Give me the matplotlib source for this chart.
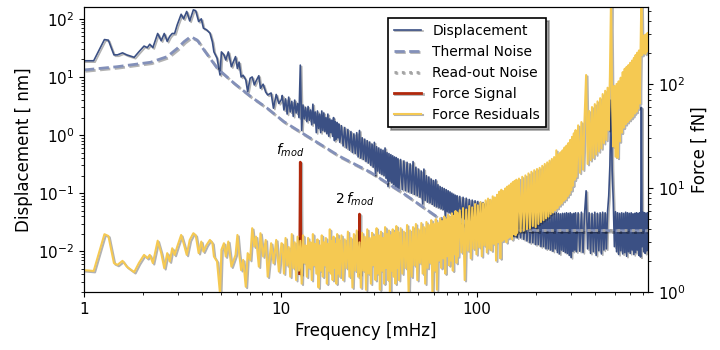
import numpy as np
import matplotlib
matplotlib.use("Agg")
import matplotlib.pyplot as plt
import matplotlib.patheffects as pe
from matplotlib import ticker

# ---- data ----
# low-frequency part (1 - 10 mHz): displacement [nm], force residuals [fN]
f_low = [1.0, 1.12, 1.27, 1.33, 1.42, 1.48, 1.57, 1.65, 1.80, 1.90, 2.02, 2.10, 2.16, 2.24,
         2.37, 2.47, 2.56, 2.65, 2.73, 2.81, 2.89, 2.98, 3.12, 3.21, 3.33, 3.45, 3.60, 3.70,
         3.83, 3.95, 4.05, 4.20, 4.37, 4.50, 4.58, 4.75, 4.92, 5.00, 5.15, 5.26, 5.42, 5.62,
         5.90, 6.03, 6.15, 6.30, 6.45, 6.65, 6.80, 7.00, 7.17, 7.35, 7.50, 7.75, 7.90, 8.15,
         8.40, 8.60, 8.95, 9.20, 9.50, 9.80, 10.1]
disp_low = [19, 19, 44, 43, 24, 24, 26, 24, 21.8, 27, 34, 32, 36.6, 32,
            56, 42, 56, 41, 50, 56, 56, 79, 120, 100, 134, 92, 143, 138,
            90, 100, 69, 65, 57, 40, 27, 21, 10.8, 27, 24, 19.6, 27, 15,
            22.4, 14, 18, 10, 10.7, 8.9, 5.6, 9.5, 10, 7.3, 8.5, 10.5, 6.4, 7.5,
            5.5, 4.9, 5.3, 2.9, 5.0, 3.5, 4.1]
resid_low = [1.62, 1.59, 3.59, 3.45, 1.89, 1.82, 1.99, 1.75, 1.55, 1.89, 2.27, 2.11, 2.27, 1.89,
             3.11, 2.36, 1.69, 2.36, 1.96, 2.63, 2.27, 2.73, 3.53, 2.94, 2.27, 3.16, 3.67, 3.5,
             2.36, 3.05, 2.44, 2.83, 3.16, 2.94, 2.19, 1.96, 0.95, 2.54, 2.94, 2.19, 3.05, 1.75,
             2.27, 3.53, 2.36, 1.62, 2.03, 1.12, 2.36, 2.03, 4.1, 2.73, 3.4, 1.75, 3.67, 2.19,
             3.16, 1.4, 2.94, 1.89, 3.16, 1.57, 2.94]

# 10 - 20 mHz
f_s1 = [10.2, 10.4, 10.6, 10.8, 11.0, 11.2, 11.4, 11.6, 11.8, 12.0,
        12.2, 12.4, 12.6, 12.8, 13.0, 13.2, 13.4, 13.6, 13.8, 14.0,
        14.2, 14.4, 14.6, 14.8, 15.0, 15.2, 15.4, 15.6, 15.8, 16.0,
        16.2, 16.4, 16.6, 16.8, 17.0, 17.2, 17.4, 17.6, 17.8, 18.0,
        18.2, 18.4, 18.6, 18.8, 19.0, 19.2, 19.4, 19.6, 19.8, 20.0]
disp_s1 = [4.8, 2.7, 4.2, 2.3, 4.5, 2.5, 3.8, 2.1, 4.0, 2.4,
           3.5, 2.0, 16, 1.2, 3.3, 1.9, 3.0, 1.7, 3.1, 1.8,
           2.7, 1.5, 3.4, 1.6, 2.5, 1.1, 2.6, 1.3, 2.3, 1.1,
           2.6, 1.2, 2.4, 1.15, 2.0, 1.05, 2.3, 0.95, 1.9, 1.1,
           1.8, 0.95, 2.0, 0.8, 1.7, 0.85, 1.65, 0.9, 1.55, 0.75]
resid_s1 = [2.9, 1.5, 3.3, 1.8, 2.7, 1.4, 3.6, 1.7, 3.0, 1.3,
            3.4, 1.6, 3.1, 1.2, 3.5, 1.9, 2.8, 1.4, 3.3, 1.7,
            3.0, 1.3, 3.6, 1.8, 2.9, 1.5, 3.2, 1.1, 2.8, 1.6,
            3.5, 1.4, 3.0, 1.8, 3.3, 1.2, 2.9, 1.6, 4.0, 1.5,
            3.1, 1.3, 3.4, 1.7, 2.9, 1.2, 3.6, 1.5, 3.2, 1.4]

# 20 - 40 mHz
f_s2 = [20.4, 20.8, 21.2, 21.6, 22.0, 22.4, 22.8, 23.2, 23.6, 24.0,
        24.4, 24.8, 25.2, 25.6, 26.0, 26.4, 26.8, 27.2, 27.6, 28.0,
        28.4, 28.8, 29.2, 29.6, 30.0, 30.4, 30.8, 31.2, 31.6, 32.0,
        32.4, 32.8, 33.2, 33.6, 34.0, 34.4, 34.8, 35.2, 35.6, 36.0,
        36.4, 36.8, 37.2, 37.6, 38.0, 38.4, 38.8, 39.2, 39.6, 40.0]
disp_s2 = [1.45, 0.65, 1.35, 0.6, 1.25, 0.55, 1.15, 0.5, 1.05, 0.48,
           1.1, 0.42, 1.2, 0.4, 0.9, 0.38, 0.85, 0.35, 0.8, 0.33,
           0.76, 0.3, 0.7, 0.28, 0.75, 0.2, 0.63, 0.24, 0.6, 0.22,
           0.57, 0.21, 0.55, 0.2, 0.6, 0.18, 0.5, 0.13, 0.48, 0.16,
           0.46, 0.15, 0.44, 0.14, 0.42, 0.13, 0.41, 0.125, 0.39, 0.12]
resid_s2 = [3.5, 1.3, 3.2, 1.7, 3.8, 1.4, 3.3, 1.1, 3.6, 1.6,
            3.9, 1.4, 3.0, 1.1, 3.7, 1.6, 3.4, 1.05, 4.0, 1.5,
            3.3, 1.2, 3.7, 1.8, 3.4, 1.3, 4.1, 1.5, 3.5, 1.05,
            3.8, 1.6, 3.3, 1.2, 4.2, 1.7, 3.6, 1.3, 3.9, 1.0,
            3.5, 1.6, 4.0, 1.4, 3.7, 1.2, 4.3, 1.7, 3.8, 1.3]

# 40 - 80 mHz
f_s3 = [40.8, 41.6, 42.4, 43.2, 44.0, 44.8, 45.6, 46.4, 47.2, 48.0,
        48.8, 49.6, 50.4, 51.2, 52.0, 52.8, 53.6, 54.4, 55.2, 56.0,
        56.8, 57.6, 58.4, 59.2, 60.0, 60.8, 61.6, 62.4, 63.2, 64.0,
        64.8, 65.6, 66.4, 67.2, 68.0, 68.8, 69.6, 70.4, 71.2, 72.0,
        72.8, 73.6, 74.4, 75.2, 76.0, 76.8, 77.6, 78.4, 79.2, 80.0]
disp_s3 = [0.38, 0.115, 0.36, 0.11, 0.34, 0.105, 0.32, 0.1, 0.35, 0.095,
           0.28, 0.09, 0.26, 0.085, 0.24, 0.065, 0.26, 0.075, 0.2, 0.07,
           0.19, 0.068, 0.175, 0.064, 0.165, 0.06, 0.17, 0.058, 0.14, 0.056,
           0.13, 0.054, 0.125, 0.052, 0.12, 0.04, 0.115, 0.048, 0.11, 0.046,
           0.105, 0.045, 0.1, 0.043, 0.096, 0.042, 0.092, 0.04, 0.09, 0.039]
resid_s3 = [4.1, 1.5, 3.8, 1.7, 4.4, 1.0, 3.9, 1.4, 4.2, 1.8,
            4.5, 1.3, 4.0, 1.9, 4.6, 1.5, 4.2, 1.2, 4.7, 1.7,
            4.4, 1.9, 4.9, 1.0, 4.5, 1.6, 5.0, 1.05, 4.6, 2.0,
            5.1, 1.7, 4.8, 2.1, 5.3, 1.5, 5.0, 2.2, 5.5, 1.8,
            5.2, 2.0, 5.7, 1.6, 5.4, 2.3, 6.0, 1.9, 5.8, 2.2]

# 80 - 160 mHz
f_s4 = [81.6, 83.2, 84.8, 86.4, 88.0, 89.6, 91.2, 92.8, 94.4, 96.0,
        97.6, 99.2, 100.8, 102.4, 104.0, 105.6, 107.2, 108.8, 110.4, 112.0,
        113.6, 115.2, 116.8, 118.4, 120.0, 121.6, 123.2, 124.8, 126.4, 128.0,
        129.6, 131.2, 132.8, 134.4, 136.0, 137.6, 139.2, 140.8, 142.4, 144.0,
        145.6, 147.2, 148.8, 150.4, 152.0, 153.6, 155.2, 156.8, 158.4, 160.0]
disp_s4 = [0.088, 0.038, 0.085, 0.036, 0.082, 0.035, 0.078, 0.034, 0.076, 0.033,
           0.074, 0.032, 0.072, 0.031, 0.07, 0.03, 0.069, 0.029, 0.067, 0.028,
           0.066, 0.027, 0.065, 0.026, 0.063, 0.025, 0.062, 0.024, 0.061, 0.023,
           0.06, 0.022, 0.06, 0.022, 0.059, 0.021, 0.058, 0.02, 0.058, 0.02,
           0.057, 0.019, 0.057, 0.019, 0.056, 0.018, 0.056, 0.018, 0.055, 0.017]
resid_s4 = [6.1, 2.4, 6.4, 1.3, 6.2, 2.5, 6.7, 2.1, 6.5, 2.6,
            7.0, 2.3, 6.8, 2.7, 7.3, 2.2, 7.1, 2.8, 7.6, 2.4,
            7.9, 2.6, 7.7, 2.5, 8.3, 2.9, 8.1, 2.0, 8.6, 3.0,
            9.2, 2.1, 9.6, 3.1, 9.3, 3.2, 9.9, 3.0, 10.3, 3.3,
            10.6, 3.4, 11.0, 3.2, 11.4, 3.6, 11.7, 3.5, 12.0, 3.7]

# 160 - 320 mHz
f_s5 = [163.2, 166.4, 169.6, 172.8, 176.0, 179.2, 182.4, 185.6, 188.8, 192.0,
        195.2, 198.4, 201.6, 204.8, 208.0, 211.2, 214.4, 217.6, 220.8, 224.0,
        227.2, 230.4, 233.6, 236.8, 240.0, 243.2, 246.4, 249.6, 252.8, 256.0,
        259.2, 262.4, 265.6, 268.8, 272.0, 275.2, 278.4, 281.6, 284.8, 288.0,
        291.2, 294.4, 297.6, 300.8, 304.0, 307.2, 310.4, 313.6, 316.8, 320.0]
disp_s5 = [0.055, 0.017, 0.054, 0.016, 0.053, 0.015, 0.052, 0.014, 0.051, 0.014,
           0.05, 0.013, 0.05, 0.013, 0.049, 0.012, 0.048, 0.012, 0.048, 0.011,
           0.047, 0.011, 0.046, 0.0105, 0.046, 0.01, 0.045, 0.011, 0.046, 0.0095,
           0.045, 0.009, 0.044, 0.0105, 0.045, 0.01, 0.045, 0.0095, 0.046, 0.0092,
           0.045, 0.0085, 0.046, 0.0078, 0.044, 0.01, 0.045, 0.0105, 0.046, 0.0098]
resid_s5 = [12.3, 3.8, 12.8, 3.9, 13.2, 4.0, 13.8, 4.1, 14.3, 4.3,
            14.8, 4.2, 15.2, 4.5, 15.6, 4.7, 16.3, 4.9, 17.0, 5.1,
            17.6, 5.3, 18.3, 5.6, 19.0, 5.8, 19.8, 6.1, 23.0, 6.4,
            21.0, 6.8, 22.0, 7.1, 23.0, 7.5, 24.5, 7.8, 25.5, 8.3,
            27.0, 8.8, 29.0, 9.5, 31.0, 10.5, 33.5, 12.0, 36.0, 12.8]

# 320 - 742 mHz
f_s6 = [326.4, 332.8, 339.2, 345.6, 352.0, 358.4, 364.8, 371.2, 377.6, 384.0,
        390.4, 396.8, 403.2, 409.6, 416.0, 422.4, 428.8, 435.2, 441.6, 448.0,
        454.4, 460.8, 467.2, 473.6, 480.0, 486.4, 492.8, 499.2, 505.6, 512.0,
        518.4, 524.8, 531.2, 537.6, 544.0, 550.4, 556.8, 563.2, 569.6, 576.0,
        582.4, 588.8, 595.2, 601.6, 608.0, 614.4, 620.8, 627.2, 633.6, 640.0,
        646.4, 652.8, 659.2, 665.6, 672.0, 678.4, 684.8, 691.2, 697.6, 704.0,
        710.4, 716.8, 723.2, 729.6, 736.0, 742.4]
disp_s6 = [0.046, 0.01, 0.047, 0.0095, 0.045, 0.11, 0.011, 0.046, 0.0092, 0.045,
           0.0098, 0.047, 0.0085, 0.045, 0.0102, 0.046, 0.009, 0.047, 0.0105, 0.046,
           0.011, 0.048, 0.09, 0.3, 4.0, 0.25, 0.07, 0.012, 0.048, 0.0098,
           0.046, 0.0088, 0.045, 0.0102, 0.046, 0.009, 0.045, 0.0095, 0.047, 0.0082,
           0.046, 0.0098, 0.045, 0.0092, 0.046, 0.0105, 0.044, 0.0088, 0.045, 0.0095,
           0.046, 0.0105, 0.045, 0.0085, 0.046, 0.008, 3.0, 0.012, 0.047, 0.0098,
           0.046, 0.0092, 0.045, 0.0102, 0.046, 0.011]
resid_s6 = [40, 14, 43, 15, 47, 122, 17, 55, 18.5, 60,
            19.5, 64, 21, 68, 22.5, 73, 24, 80, 27, 86,
            29, 92, 36, 120, 700, 60, 25, 96, 20, 100,
            19.5, 106, 28, 115, 34, 130, 38, 140, 41, 146,
            43, 152, 45, 160, 47, 168, 49, 178, 52, 190,
            54, 200, 58, 210, 65, 225, 700, 190, 290, 200,
            295, 195, 300, 205, 310, 210]

# noise models [nm]
f_therm = [1.0, 1.47, 2.18, 2.65, 2.98, 3.23, 3.49, 3.77, 4.08, 4.77, 5.8, 7.05, 8.55,
           10.4, 20.0, 28.6, 42.0, 62.6, 74.0, 90.0, 110.0, 150.0, 740.0]
therm = [13.2, 15.0, 17.9, 22.4, 31.0, 40.6, 49.5, 43.0, 29.0, 14.0, 7.8, 4.6, 2.9,
         1.7, 0.43, 0.23, 0.1, 0.039, 0.032, 0.027, 0.024, 0.023, 0.0225]
f_read = [100.0, 740.0]
readout = [0.023, 0.023]

# force signal [fN] at f_mod and 2 f_mod
f_sig = [12.5, 12.6, 12.7, np.nan, 25.1, 25.2, 25.3]
sig = [1.5, 17.7, 1.5, np.nan, 1.5, 5.6, 1.5]

freq = np.concatenate([f_low, f_s1, f_s2, f_s3, f_s4, f_s5, f_s6])
disp = np.concatenate([disp_low, disp_s1, disp_s2, disp_s3, disp_s4, disp_s5, disp_s6])
resid = np.concatenate([resid_low, resid_s1, resid_s2, resid_s3, resid_s4, resid_s5, resid_s6])

# ---- plot ----
plt.rcParams['font.family'] = 'DejaVu Sans'
fig, ax = plt.subplots(figsize=(7.2, 3.5), dpi=100)
fig.subplots_adjust(left=0.1167, right=0.9, top=0.98, bottom=0.166)
ax2 = ax.twinx()

shadow = [pe.SimpleLineShadow(offset=(1, -1), alpha=0.3), pe.Normal()]

l1, = ax.plot(freq, disp, color='#3b5084', lw=1.2, label='Displacement', path_effects=shadow)
l2, = ax.plot(f_therm, therm, color='#8390b9', lw=2, ls='--', label='Thermal Noise',
              path_effects=shadow)
l3, = ax.plot(f_read, readout, color='#a3a3a3', lw=2, ls=':', label='Read-out Noise',
              path_effects=shadow)
l4, = ax2.plot(f_sig, sig, color='#b0280c', lw=2, label='Force Signal', path_effects=shadow)
l5, = ax2.plot(freq, resid, color='#f5c952', lw=1.5, label='Force Residuals',
               path_effects=shadow)

ax.set_xscale('log')
ax.set_yscale('log')
ax2.set_yscale('log')
ax.set_xlim(1, 740)
ax.set_ylim(2e-3, 160)
ax2.set_ylim(1, 550)

ax.xaxis.set_major_formatter(ticker.FuncFormatter(lambda v, p: f'{v:g}'))
ax.xaxis.set_minor_formatter(ticker.NullFormatter())

ax.set_xlabel('Frequency [mHz]', fontsize=12)
ax.set_ylabel('Displacement [ nm]', fontsize=12)
ax2.set_ylabel('Force [ fN]', fontsize=12)
ax.tick_params(labelsize=11)
ax2.tick_params(labelsize=11)

ax2.text(11.2, 23.2, '$f_{mod}$', ha='center', va='center', fontsize=10)
ax2.text(23.9, 7.7, '$2\\,f_{mod}$', ha='center', va='center', fontsize=10)

leg = ax2.legend(handles=[l1, l2, l3, l4, l5], loc='upper right',
                 bbox_to_anchor=(0.831, 0.985), fancybox=False, shadow=True,
                 framealpha=1, edgecolor='k', fontsize=10)
leg.get_frame().set_linewidth(1.2)

fig.savefig('out.png', dpi=100)
